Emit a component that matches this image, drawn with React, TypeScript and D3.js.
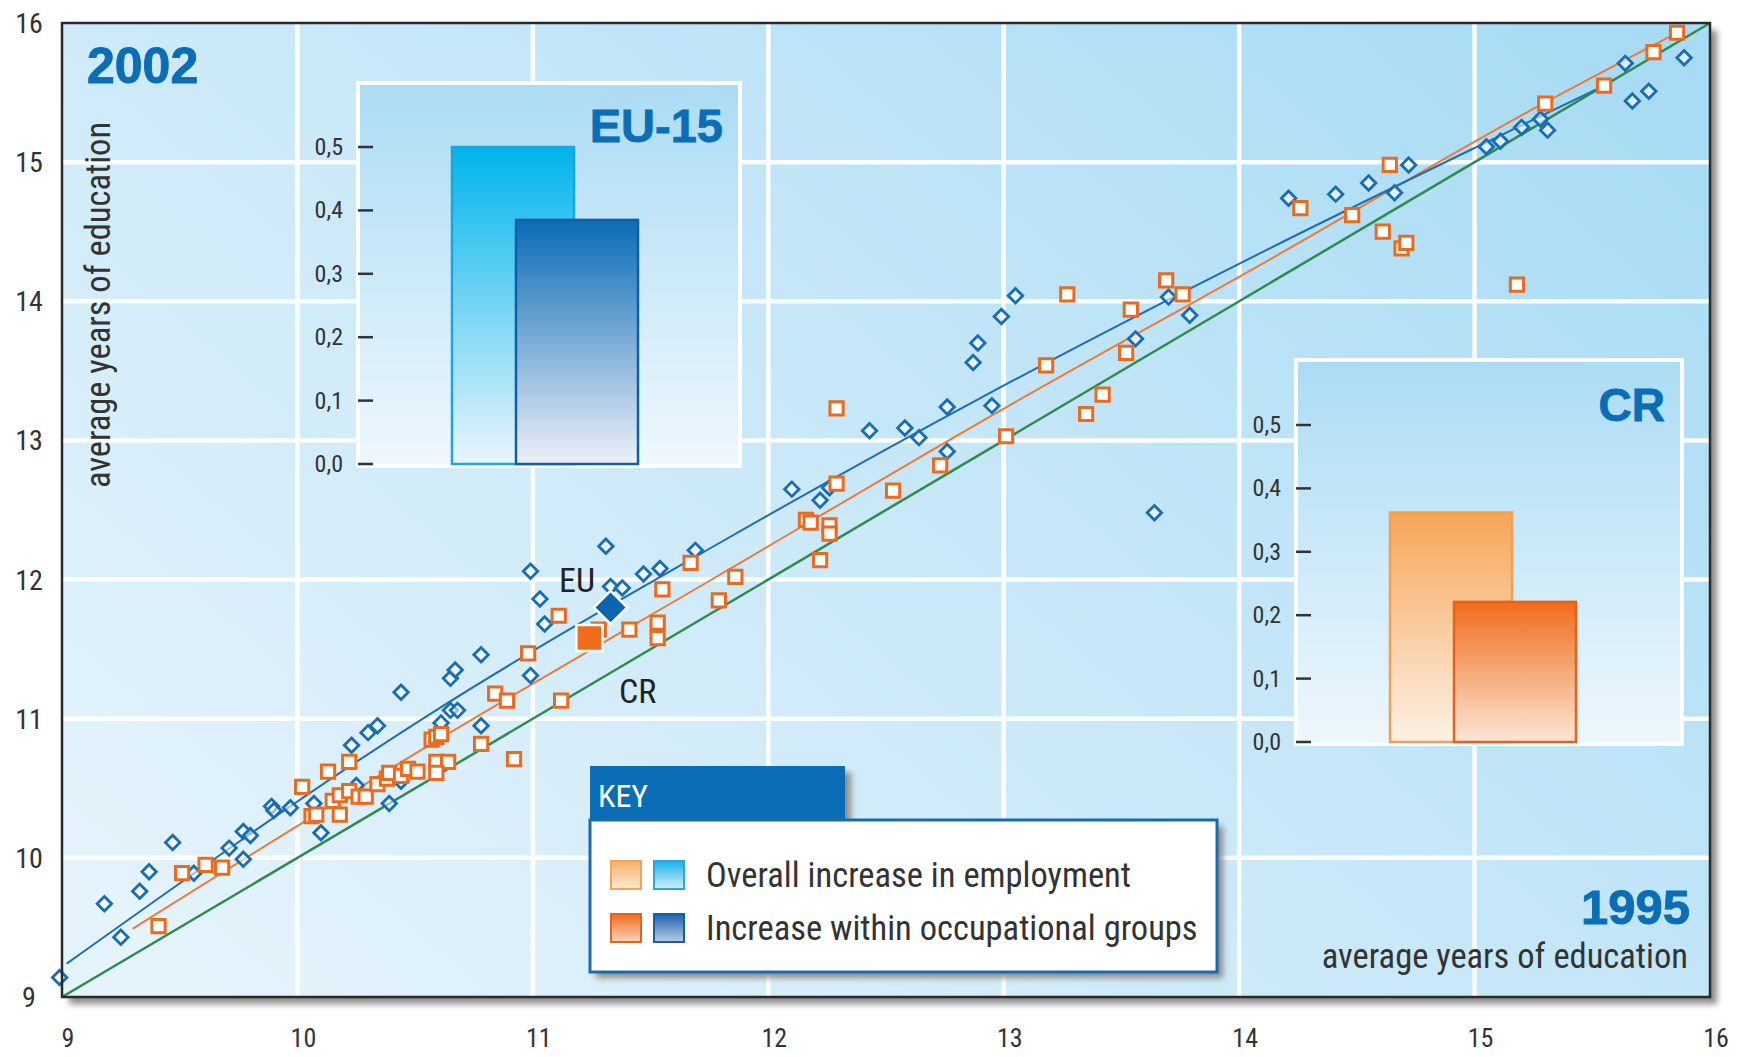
import React from 'react';
import * as d3 from 'd3';

const W = 1741, H = 1057;

// ---------- data ----------
const axisTicks = [9, 10, 11, 12, 13, 14, 15, 16];
const gridTicks = [10, 11, 12, 13, 14, 15];
const barTicks = [0, 0.1, 0.2, 0.3, 0.4, 0.5];

// EU-15 occupations: [1995, 2002] average years of education
const euPoints: [number, number][] = [
  [8.99, 9.14], [9.18, 9.67], [9.25, 9.43], [9.33, 9.76], [9.37, 9.9], [9.47, 10.11], [9.56, 9.89],
  [9.71, 10.07], [9.77, 10.19], [9.8, 10.16], [9.77, 9.99], [9.89, 10.37], [9.9, 10.34], [9.97, 10.36],
  [10.07, 10.39], [10.1, 10.18], [10.23, 10.81], [10.3, 10.9], [10.34, 10.95], [10.39, 10.39],
  [10.25, 10.52], [10.44, 10.55], [10.44, 11.19], [10.61, 10.97], [10.65, 11.06], [10.68, 11.06],
  [10.65, 11.29], [10.67, 11.35], [10.78, 11.46], [10.78, 10.95], [10.99, 12.06], [11.03, 11.86],
  [11.05, 11.68], [10.99, 11.31], [11.31, 12.24], [11.33, 11.95], [11.38, 11.94], [11.47, 12.04],
  [11.54, 12.08], [11.69, 12.21], [12.1, 12.65], [12.22, 12.57], [12.26, 12.66], [12.43, 13.07],
  [12.58, 13.09], [12.64, 13.02], [12.76, 12.92], [12.76, 13.24], [12.87, 13.56], [12.89, 13.7],
  [12.95, 13.25], [12.99, 13.89], [13.05, 14.04], [13.56, 13.73], [13.7, 14.03], [13.79, 13.9],
  [13.64, 12.48], [14.21, 14.74], [14.41, 14.77], [14.55, 14.85], [14.66, 14.78], [14.72, 14.98],
  [15.05, 15.11], [15.11, 15.15], [15.2, 15.25], [15.28, 15.31], [15.31, 15.23], [15.64, 15.71],
  [15.67, 15.44], [15.74, 15.51], [15.89, 15.75],
];

// Czech Republic occupations
const crPoints: [number, number][] = [
  [9.41, 9.51], [9.51, 9.89], [9.61, 9.95], [9.68, 9.93], [10.02, 10.51], [10.13, 10.62], [10.22, 10.69],
  [10.06, 10.3], [10.08, 10.31], [10.15, 10.41], [10.18, 10.31], [10.18, 10.45], [10.22, 10.48],
  [10.26, 10.44], [10.29, 10.44], [10.34, 10.53], [10.38, 10.57], [10.39, 10.61], [10.44, 10.59],
  [10.47, 10.64], [10.51, 10.62], [10.57, 10.85], [10.59, 10.87], [10.61, 10.89], [10.59, 10.69],
  [10.64, 10.69], [10.59, 10.61], [10.78, 10.82], [10.84, 11.18], [10.89, 11.13], [10.92, 10.71],
  [10.98, 11.47], [11.11, 11.74], [11.12, 11.13], [11.28, 11.64], [11.41, 11.64], [11.53, 11.69],
  [11.53, 11.58], [11.55, 11.93], [11.67, 12.12], [11.79, 11.85], [11.86, 12.02], [12.16, 12.43],
  [12.18, 12.41], [12.26, 12.39], [12.26, 12.33], [12.22, 12.14], [12.29, 12.69], [12.29, 13.23],
  [12.53, 12.64], [12.73, 12.82], [13.01, 13.03], [13.18, 13.54], [13.27, 14.05], [13.35, 13.19],
  [13.42, 13.33], [13.52, 13.63], [13.54, 13.94], [13.69, 14.15], [13.76, 14.05], [14.26, 14.67],
  [14.48, 14.62], [14.61, 14.5], [14.64, 14.98], [14.69, 14.38], [14.71, 14.42], [15.18, 14.12],
  [15.3, 15.42], [15.55, 15.55], [15.76, 15.79], [15.86, 15.93],
];

const euFit: [number, number][] = [
  [9.02, 9.24], [10.56, 11.03], [11.8, 12.27], [12.94, 13.34], [14.13, 14.38], [15.01, 15.11], [15.55, 15.55],
];
const crFit: [number, number][] = [
  [9.3, 9.49], [10.56, 10.81], [11.8, 12.04], [12.94, 13.17], [14.13, 14.3], [15.29, 15.42], [15.86, 15.93],
];
const diagonal: [number, number][] = [[9, 9], [16, 16]];

const euAverage: [number, number] = [11.33, 11.8];
const crAverage: [number, number] = [11.24, 11.58];

const euBars = [0.5, 0.385]; // overall increase, within occupational groups
const crBars = [0.362, 0.221];

const keyLabels = ['Overall increase in employment', 'Increase within occupational groups'];

// ---------- layout ----------
const NARROW = "'Liberation Sans Narrow','Roboto Condensed','Arial Narrow','DejaVu Sans Condensed',sans-serif";
const BOLD = "'Liberation Sans',Arial,sans-serif";
const plot = { left: 62, right: 1710, top: 23, bottom: 997 };
const x = d3.scaleLinear().domain([9, 16]).range([plot.left, plot.right]);
const y = d3.scaleLinear().domain([9, 16]).range([plot.bottom, plot.top]);

const fmtBar = (v: number) => d3.format('.1f')(v).replace('.', ',');

const diamondPath = d3.symbol().type(d3.symbolSquare).size(105)() as string;
const squarePath = d3.symbol().type(d3.symbolSquare).size(175)() as string;
const bigDiamondPath = d3.symbol().type(d3.symbolSquare).size(560)() as string;
const bigSquarePath = d3.symbol().type(d3.symbolSquare).size(680)() as string;

const lineGen = d3.line<[number, number]>().x(d => x(d[0])).y(d => y(d[1])).curve(d3.curveMonotoneX);

function Inset({ left, top, width, height, bars, title, light, dark, ids }: any) {
  const base = top + height - 2;
  const yb = d3.scaleLinear().domain([0, 0.5]).range([base, base - 317]);
  const barW = 122;
  const bx = [left + 94, left + 158];
  return (
    <g>
      <rect x={left} y={top} width={width} height={height} fill="url(#insetBg)" stroke="#ffffff" strokeWidth={4} />
      {barTicks.map(t => (
        <g key={t}>
          <line x1={left} x2={left + 15} y1={yb(t)} y2={yb(t)} stroke="#333" strokeWidth={2.5} />
          <text x={left - 15} y={yb(t) + 8} textAnchor="end" fontFamily={NARROW} fontSize={24} fill="#333">{fmtBar(t)}</text>
        </g>
      ))}
      <rect x={bx[0]} y={yb(bars[0])} width={barW} height={base - yb(bars[0])} fill={`url(#${ids[0]})`} stroke={light} strokeWidth={2.5} />
      <rect x={bx[1]} y={yb(bars[1])} width={barW} height={base - yb(bars[1])} fill={`url(#${ids[1]})`} stroke={dark} strokeWidth={2.5} />
      <text x={left + width - 17} y={top + (title === 'CR' ? 61 : 59)} textAnchor="end" fontFamily={BOLD} fontWeight="bold" fontSize={title === 'CR' ? 46 : 47} fill="#0a6db6" stroke="#0a6db6" strokeWidth={0.8}>{title}</text>
    </g>
  );
}

export default function App() {
  const grad = (id: string, top: string, bottom: string) => (
    <linearGradient id={id} x1="0" y1="0" x2="0" y2="1">
      <stop offset="0" stopColor={top} />
      <stop offset="1" stopColor={bottom} />
    </linearGradient>
  );
  const keyX = 590, keyHeadY = 766, keyBoxY = 820, keyW = 627, keyH = 152, headW = 255;
  return (
    <svg width={W} height={H} style={{ position: 'absolute', left: 0, top: 0, background: '#ffffff' }}>
      <defs>
        <linearGradient id="plotBg" x1="0" y1="0.85" x2="1" y2="0.15">
          <stop offset="0" stopColor="#e4f3fc" />
          <stop offset="0.5" stopColor="#c9e8f8" />
          <stop offset="1" stopColor="#a9dcf4" />
        </linearGradient>
        {grad('insetBg', '#aadcf4', '#eef7fd')}
        {grad('euLight', '#00b4ec', '#eaf5fc')}
        {grad('euDark', '#0a6bb6', '#eef0f8')}
        {grad('crLight', '#f7a658', '#fdf1e6')}
        {grad('crDark', '#f06c1c', '#fde6d6')}
        {grad('swOL', '#f8b06a', '#fde8d4')}
        {grad('swBL', '#18b2ea', '#d6effb')}
        {grad('swOD', '#ee6a1c', '#fbd5bb')}
        {grad('swBD', '#1a62ad', '#b9cbe8')}
        <filter id="blur" x="-5%" y="-5%" width="110%" height="110%">
          <feGaussianBlur stdDeviation="3" />
        </filter>
      </defs>

      {/* plot shadow */}
      <rect x={plot.left + 7} y={plot.top + 7} width={plot.right - plot.left} height={plot.bottom - plot.top} fill="#8c8c8c" filter="url(#blur)" />
      <rect x={plot.left} y={plot.top} width={plot.right - plot.left} height={plot.bottom - plot.top} fill="url(#plotBg)" />

      {/* grid */}
      {gridTicks.map(t => (
        <g key={t}>
          <line x1={x(t)} x2={x(t)} y1={plot.top} y2={plot.bottom} stroke="#ffffff" strokeWidth={4.5} opacity={0.95} />
          <line x1={plot.left} x2={plot.right} y1={y(t)} y2={y(t)} stroke="#ffffff" strokeWidth={4.5} opacity={0.95} />
        </g>
      ))}

      {/* insets */}
      <Inset left={358} top={83} width={382} height={383} bars={euBars} title="EU-15" light="#1ba6e0" dark="#0f5ea8" ids={['euLight', 'euDark']} />
      <Inset left={1296} top={360} width={386} height={384} bars={crBars} title="CR" light="#f0a050" dark="#e5621c" ids={['crLight', 'crDark']} />

      {/* lines */}
      <path d={lineGen(diagonal) as string} fill="none" stroke="#2e8b4e" strokeWidth={2.5} />
      <path d={lineGen(crFit) as string} fill="none" stroke="#ee7a38" strokeWidth={2} />
      <path d={lineGen(euFit) as string} fill="none" stroke="#1f6db3" strokeWidth={2} />

      {/* points */}
      {euPoints.map((p, i) => (
        <path key={'e' + i} d={diamondPath} transform={`translate(${x(p[0])},${y(p[1])}) rotate(45)`} fill="#ffffff" fillOpacity={0.55} stroke="#1a6cb3" strokeWidth={2.8} />
      ))}
      {crPoints.map((p, i) => (
        <path key={'c' + i} d={squarePath} transform={`translate(${x(p[0])},${y(p[1])})`} fill="#ffffff" stroke="#ea6a1f" strokeWidth={3} />
      ))}

      {/* averages */}
      <path d={bigSquarePath} transform={`translate(${x(crAverage[0])},${y(crAverage[1])})`} fill="#ee6c1b" stroke="#ffffff" strokeWidth={2.5} />
      <path d={bigDiamondPath} transform={`translate(${x(euAverage[0])},${y(euAverage[1])}) rotate(45)`} fill="#0b64b0" stroke="#ffffff" strokeWidth={2.5} />
      <text x={559} y={592} fontFamily={NARROW} fontSize={34} fill="#222">EU</text>
      <text x={619} y={703} fontFamily={NARROW} fontSize={34} fill="#222">CR</text>

      {/* plot border */}
      <rect x={plot.left} y={plot.top} width={plot.right - plot.left} height={plot.bottom - plot.top} fill="none" stroke="#2a2a2a" strokeWidth={2.5} />

      {/* axis tick labels */}
      {axisTicks.map(t => (
        <text key={'y' + t} x={29} y={y(t) + 10} textAnchor="middle" fontFamily={NARROW} fontSize={28} fill="#333">{t}</text>
      ))}
      {axisTicks.map(t => (
        <text key={'x' + t} x={x(t) + 6} y={1047} textAnchor="middle" fontFamily={NARROW} fontSize={26} fill="#333">{t}</text>
      ))}

      {/* titles */}
      <text x={87} y={83} fontFamily={BOLD} fontWeight="bold" fontSize={50} fill="#0a6db6" stroke="#0a6db6" strokeWidth={0.9}>2002</text>
      <text x={1690} y={924} textAnchor="end" fontFamily={BOLD} fontWeight="bold" fontSize={49} fill="#0a6db6" stroke="#0a6db6" strokeWidth={0.9}>1995</text>
      <text x={1688} y={968} textAnchor="end" fontFamily={NARROW} fontSize={34.5} fill="#333">average years of education</text>
      <text transform="translate(110,305) rotate(-90)" textAnchor="middle" fontFamily={NARROW} fontSize={34.5} fill="#333">average years of education</text>

      {/* key */}
      <g>
        <rect x={keyX + 6} y={keyHeadY + 6} width={headW} height={keyBoxY - keyHeadY} fill="#8c8c8c" filter="url(#blur)" />
        <rect x={keyX + 6} y={keyBoxY + 6} width={keyW} height={keyH} fill="#8c8c8c" filter="url(#blur)" />
        <rect x={keyX} y={keyHeadY} width={headW} height={keyBoxY - keyHeadY} fill="#0a6db6" />
        <rect x={keyX} y={keyBoxY} width={keyW} height={keyH} fill="#ffffff" stroke="#1a6ab0" strokeWidth={3} />
        <text x={keyX + 8} y={keyHeadY + 41} fontFamily={NARROW} fontSize={32} fill="#ffffff">KEY</text>
        {keyLabels.map((lab, i) => {
          const cy = 875 + i * 53;
          const ids = i === 0 ? ['swOL', 'swBL'] : ['swOD', 'swBD'];
          const strokes = i === 0 ? ['#f2a55a', '#2aa7df'] : ['#e2641c', '#1a5ea6'];
          return (
            <g key={lab}>
              <rect x={keyX + 21} y={cy - 14} width={30} height={28} fill={`url(#${ids[0]})`} stroke={strokes[0]} strokeWidth={2} />
              <rect x={keyX + 64} y={cy - 14} width={30} height={28} fill={`url(#${ids[1]})`} stroke={strokes[1]} strokeWidth={2} />
              <text x={keyX + 116} y={cy + 12} fontFamily={NARROW} fontSize={34.5} fill="#333">{lab}</text>
            </g>
          );
        })}
      </g>
    </svg>
  );
}
